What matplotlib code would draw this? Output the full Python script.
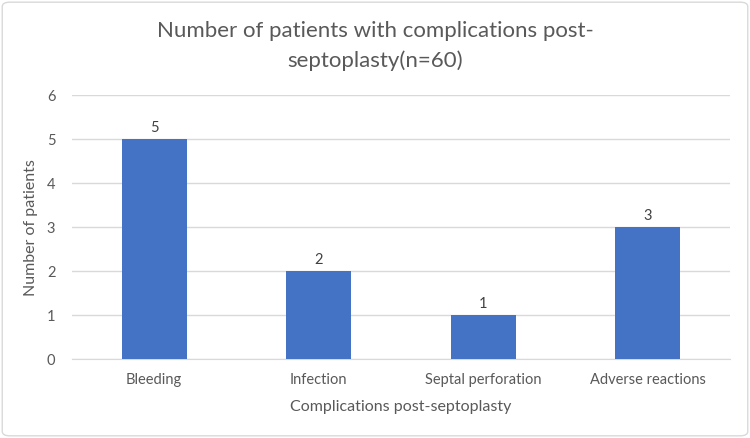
import matplotlib.pyplot as plt
from matplotlib.patches import FancyBboxPatch

categories = ['Bleeding', 'Infection', 'Septal perforation', 'Adverse reactions']
patients = [5, 2, 1, 3]
yticks = [0, 1, 2, 3, 4, 5, 6]

plt.rcParams['font.family'] = ['Lato', 'DejaVu Sans']
grey = '#595959'

fig = plt.figure(figsize=(7.5, 4.38), dpi=100)
ax = fig.add_axes([0.096, 0.180, 0.877, 0.603])

# outer chart border
fig.patches.append(FancyBboxPatch((0.003, 0.005), 0.994, 0.99, boxstyle='round,pad=0,rounding_size=0.01',
                                  transform=fig.transFigure, fill=False, edgecolor='#d9d9d9', linewidth=1))

x = range(len(categories))
bars = ax.bar(x, patients, width=0.395, color='#4472C4', zorder=3)
for b, v in zip(bars, patients):
    ax.text(b.get_x() + b.get_width() / 2, v + 0.1, str(v), ha='center', va='bottom',
            fontsize=10.5, color='#404040')

ax.set_xlim(-0.5, len(categories) - 0.5)
ax.set_ylim(0, 6)
ax.set_yticks(yticks)
ax.set_xticks(list(x))
ax.set_xticklabels(categories)
ax.yaxis.grid(True, color='#d9d9d9', linewidth=1, zorder=0)
for s in ['top', 'right', 'left']:
    ax.spines[s].set_visible(False)
ax.spines['bottom'].set_color('#d9d9d9')
ax.tick_params(axis='both', length=0, colors=grey, labelsize=10.5)
ax.tick_params(axis='y', pad=12)
ax.tick_params(axis='x', pad=10)

ax.set_xlabel('Complications post-septoplasty', fontsize=11.5, color=grey, labelpad=9)
ax.set_ylabel('Number of patients', fontsize=11.5, color=grey, labelpad=6)

fig.text(0.5, 0.895, 'Number of patients with complications post-\nseptoplasty(n=60)', ha='center', va='center',
         fontsize=16, color=grey, linespacing=1.55)

fig.savefig('out.png', dpi=100)
